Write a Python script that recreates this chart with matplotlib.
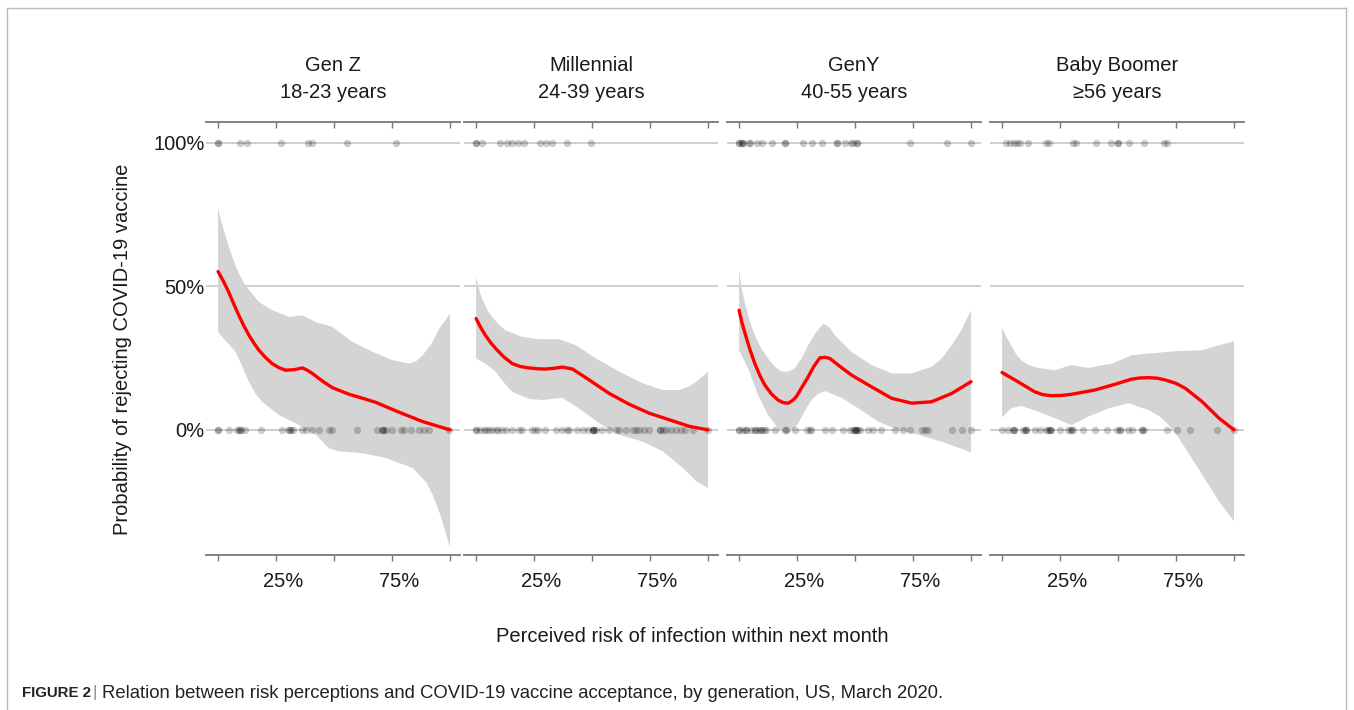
import matplotlib.pyplot as plt
from matplotlib.lines import Line2D
from matplotlib.transforms import ScaledTranslation

plt.rcParams['font.family'] = ['Liberation Sans', 'DejaVu Sans']

W, H = 1354, 710

# facet titles
titles = ['Gen Z\n18-23 years', 'Millennial\n24-39 years',
          'GenY\n40-55 years', 'Baby Boomer\n\u226556 years']

# --- Gen Z ---
genz_fit_x = [0, 0.023, 0.046, 0.067, 0.089, 0.111, 0.133, 0.155, 0.176, 0.205,
              0.233, 0.262, 0.291, 0.33, 0.363, 0.385, 0.406, 0.45, 0.493,
              0.565, 0.62, 0.68, 0.767, 0.882, 1.0]
genz_fit_y = [0.552, 0.518, 0.48, 0.44, 0.40, 0.363, 0.33, 0.302, 0.278, 0.252,
              0.231, 0.217, 0.208, 0.210, 0.216, 0.208, 0.197, 0.170, 0.147,
              0.124, 0.111, 0.096, 0.066, 0.029, 0.0]
genz_up_x = [0, 0.016, 0.032, 0.054, 0.075, 0.096, 0.118, 0.176, 0.233, 0.305,
             0.363, 0.421, 0.493, 0.579, 0.666, 0.752, 0.824, 0.855, 0.882,
             0.92, 0.954, 1.0]
genz_up_y = [0.772, 0.72, 0.677, 0.62, 0.573, 0.535, 0.503, 0.446, 0.417, 0.394,
             0.399, 0.376, 0.359, 0.307, 0.272, 0.243, 0.231, 0.240, 0.260,
             0.300, 0.353, 0.405]
genz_lo_x = [0, 0.017, 0.045, 0.075, 0.105, 0.133, 0.16, 0.19, 0.262, 0.349,
             0.421, 0.478, 0.522, 0.622, 0.723, 0.839, 0.9, 0.925, 0.96, 1.0]
genz_lo_y = [0.341, 0.324, 0.300, 0.272, 0.220, 0.168, 0.128, 0.098, 0.052, 0.017,
             -0.017, -0.064, -0.075, -0.081, -0.098, -0.133, -0.185, -0.226,
             -0.30, -0.41]
genz_ones = [0, 0, 0.095, 0.124, 0.27, 0.389, 0.404, 0.555, 0.767]
genz_zeros = [0, 0, 0.049, 0.082, 0.089, 0.095, 0.097, 0.115, 0.183, 0.274, 0.305,
              0.305, 0.313, 0.323, 0.363, 0.380, 0.406, 0.435, 0.478, 0.490, 0.597,
              0.687, 0.706, 0.712, 0.712, 0.723, 0.752, 0.788, 0.803, 0.831, 0.867,
              0.889, 0.911, 0.997]

# --- Millennial ---
mill_fit_x = [0, 0.02, 0.04, 0.062, 0.084, 0.12, 0.156, 0.19, 0.228, 0.265, 0.3,
              0.34, 0.372, 0.416, 0.45, 0.488, 0.574, 0.661, 0.747, 0.834,
              0.921, 1.0]
mill_fit_y = [0.388, 0.357, 0.33, 0.305, 0.284, 0.254, 0.231, 0.221, 0.216, 0.213,
              0.212, 0.215, 0.219, 0.212, 0.194, 0.174, 0.127, 0.089, 0.058,
              0.035, 0.012, 0.0]
mill_up_x = [0, 0.013, 0.026, 0.047, 0.069, 0.097, 0.127, 0.199, 0.271, 0.358,
             0.43, 0.517, 0.618, 0.719, 0.805, 0.877, 0.92, 0.95, 1.0]
mill_up_y = [0.532, 0.49, 0.457, 0.42, 0.394, 0.368, 0.347, 0.324, 0.316, 0.316,
             0.295, 0.249, 0.203, 0.162, 0.139, 0.139, 0.152, 0.168, 0.203]
mill_lo_x = [0, 0.04, 0.084, 0.12, 0.156, 0.228, 0.286, 0.372, 0.444, 0.531,
             0.618, 0.719, 0.805, 0.892, 0.95, 1.0]
mill_lo_y = [0.249, 0.231, 0.203, 0.165, 0.133, 0.108, 0.104, 0.112, 0.075, 0.023,
             -0.017, -0.041, -0.075, -0.133, -0.179, -0.203]
mill_ones = [0, 0, 0.026, 0.104, 0.134, 0.156, 0.182, 0.208, 0.277, 0.303, 0.329,
             0.39, 0.494]
mill_zeros = [0, 0, 0.019, 0.033, 0.043, 0.055, 0.069, 0.084, 0.095, 0.113, 0.127,
              0.156, 0.185, 0.199, 0.242, 0.254, 0.268, 0.297, 0.343, 0.372, 0.394,
              0.401, 0.437, 0.459, 0.481, 0.502, 0.502, 0.502, 0.509, 0.517, 0.545,
              0.574, 0.603, 0.618, 0.646, 0.675, 0.690, 0.704, 0.726, 0.747, 0.791,
              0.791, 0.805, 0.82, 0.841, 0.863, 0.885, 0.899, 0.935, 1.0]

# --- GenY ---
geny_fit_x = [0, 0.012, 0.024, 0.046, 0.068, 0.09, 0.111, 0.14, 0.168, 0.19,
              0.212, 0.23, 0.247, 0.272, 0.298, 0.323, 0.348, 0.37, 0.391,
              0.44, 0.485, 0.571, 0.658, 0.744, 0.83, 0.917, 1.0]
geny_fit_y = [0.417, 0.375, 0.341, 0.282, 0.231, 0.189, 0.156, 0.125, 0.104, 0.095,
              0.093, 0.102, 0.116, 0.150, 0.185, 0.222, 0.251, 0.253, 0.249,
              0.218, 0.191, 0.150, 0.110, 0.093, 0.098, 0.127, 0.168]
geny_up_x = [0, 0.012, 0.024, 0.046, 0.068, 0.095, 0.125, 0.155, 0.183, 0.21,
             0.24, 0.27, 0.298, 0.33, 0.363, 0.39, 0.413, 0.485, 0.571, 0.658,
             0.744, 0.83, 0.875, 0.917, 0.96, 1.0]
geny_up_y = [0.556, 0.49, 0.446, 0.38, 0.330, 0.285, 0.249, 0.22, 0.203, 0.203,
             0.214, 0.25, 0.295, 0.338, 0.370, 0.358, 0.330, 0.272, 0.226, 0.197,
             0.197, 0.220, 0.250, 0.295, 0.35, 0.417]
geny_lo_x = [0, 0.039, 0.082, 0.125, 0.168, 0.19, 0.212, 0.233, 0.255, 0.285,
             0.312, 0.34, 0.37, 0.442, 0.514, 0.6, 0.686, 0.773, 0.873, 1.0]
geny_lo_y = [0.278, 0.214, 0.122, 0.052, 0.006, -0.006, -0.012, 0.0, 0.023, 0.068,
             0.104, 0.125, 0.135, 0.112, 0.075, 0.029, 0.0, -0.017, -0.041, -0.078]
geny_ones = [0, 0, 0.011, 0.011, 0.018, 0.042, 0.049, 0.077, 0.099, 0.142, 0.199,
             0.199, 0.277, 0.316, 0.357, 0.422, 0.422, 0.458, 0.481, 0.493, 0.507,
             0.507, 0.735, 0.897, 1.0]
geny_zeros = [0, 0, 0.017, 0.032, 0.032, 0.053, 0.068, 0.068, 0.082, 0.096, 0.096,
              0.108, 0.118, 0.154, 0.197, 0.204, 0.24, 0.291, 0.305, 0.312, 0.37,
              0.401, 0.449, 0.478, 0.492, 0.499, 0.499, 0.506, 0.506, 0.514, 0.521,
              0.557, 0.578, 0.614, 0.672, 0.708, 0.737, 0.787, 0.801, 0.816, 0.917,
              0.96, 1.0]

# --- Baby Boomer ---
boom_fit_x = [0, 0.068, 0.14, 0.175, 0.212, 0.255, 0.299, 0.4, 0.487, 0.559,
              0.595, 0.632, 0.67, 0.704, 0.75, 0.79, 0.863, 0.935, 1.0]
boom_fit_y = [0.200, 0.168, 0.133, 0.123, 0.119, 0.120, 0.124, 0.139, 0.159, 0.177,
              0.181, 0.182, 0.180, 0.174, 0.162, 0.145, 0.098, 0.041, 0.0]
boom_up_x = [0, 0.02, 0.039, 0.06, 0.082, 0.115, 0.155, 0.227, 0.299, 0.371,
             0.473, 0.559, 0.632, 0.747, 0.863, 0.935, 1.0]
boom_up_y = [0.355, 0.322, 0.295, 0.265, 0.243, 0.226, 0.216, 0.208, 0.226, 0.216,
             0.231, 0.260, 0.266, 0.274, 0.278, 0.295, 0.309]
boom_lo_x = [0, 0.039, 0.082, 0.155, 0.227, 0.299, 0.371, 0.458, 0.545, 0.632,
             0.68, 0.718, 0.755, 0.79, 0.863, 0.935, 1.0]
boom_lo_y = [0.043, 0.075, 0.084, 0.064, 0.041, 0.017, 0.046, 0.075, 0.093, 0.069,
             0.047, 0.017, -0.02, -0.064, -0.156, -0.249, -0.318]
boom_ones = [0.015, 0.035, 0.051, 0.066, 0.079, 0.113, 0.19, 0.201, 0.306, 0.318,
             0.406, 0.468, 0.498, 0.498, 0.548, 0.611, 0.699, 0.71]
boom_zeros = [0, 0.025, 0.046, 0.053, 0.053, 0.09, 0.097, 0.104, 0.104, 0.14, 0.162,
              0.191, 0.198, 0.205, 0.205, 0.212, 0.249, 0.285, 0.299, 0.299, 0.306,
              0.35, 0.4, 0.451, 0.494, 0.509, 0.509, 0.545, 0.559, 0.603, 0.603,
              0.61, 0.711, 0.754, 0.812, 0.928, 1.0]

panels = [
    (genz_fit_x, genz_fit_y, genz_up_x, genz_up_y, genz_lo_x, genz_lo_y, genz_ones, genz_zeros),
    (mill_fit_x, mill_fit_y, mill_up_x, mill_up_y, mill_lo_x, mill_lo_y, mill_ones, mill_zeros),
    (geny_fit_x, geny_fit_y, geny_up_x, geny_up_y, geny_lo_x, geny_lo_y, geny_ones, geny_zeros),
    (boom_fit_x, boom_fit_y, boom_up_x, boom_up_y, boom_lo_x, boom_lo_y, boom_ones, boom_zeros),
]

x_ticks = [0, 0.25, 0.5, 0.75, 1.0]
x_ticklabels = ['', '25%', '', '75%', '']
y_ticks = [0, 0.5, 1.0]
y_ticklabels = ['0%', '50%', '100%']

fig = plt.figure(figsize=(W / 100, H / 100), dpi=100)

lefts = [206, 464, 727, 990]
ax_w = 254
ax_top, ax_bot = 122, 555

for i, (fx, fy, ux, uy, lx, ly, ones, zeros) in enumerate(panels):
    ax = fig.add_axes([lefts[i] / W, 1 - ax_bot / H, ax_w / W, (ax_bot - ax_top) / H])
    for yv in y_ticks:
        ax.axhline(yv, color='#cccccc', lw=1.3, zorder=0)
    # confidence band
    ax.fill(list(ux) + list(lx)[::-1], list(uy) + list(ly)[::-1],
            color='#d4d4d4', lw=0, zorder=1)
    ax.plot(ones, [1] * len(ones), 'o', color='black', alpha=0.2, ms=5.3,
            mew=0, zorder=2)
    ax.plot(zeros, [0] * len(zeros), 'o', color='black', alpha=0.2, ms=5.3,
            mew=0, zorder=2)
    ax.plot(fx, fy, color='#ff0000', lw=2.4, zorder=3,
            solid_capstyle='round', solid_joinstyle='round')

    ax.set_xlim(-0.052, 1.043)
    ax.set_ylim(-0.436, 1.073)
    ax.set_xticks(x_ticks)
    ax.set_xticklabels(x_ticklabels, fontsize=14.5, color='#1a1a1a')
    ax.tick_params(axis='x', which='both', top=True, bottom=True, length=4.5,
                   width=1, color='#777777', pad=8, direction='out')
    # top ticks point downward into the panel
    for t in ax.xaxis.get_major_ticks():
        t.tick2line.set_marker(3)
    offset = ScaledTranslation(7 / 100, 0, fig.dpi_scale_trans)
    for lab in ax.get_xticklabels():
        lab.set_transform(lab.get_transform() + offset)

    ax.set_yticks(y_ticks)
    if i == 0:
        ax.set_yticklabels(y_ticklabels, fontsize=14.5, color='#1a1a1a')
    else:
        ax.set_yticklabels([])
    ax.tick_params(axis='y', length=0, pad=1)

    for s in ['left', 'right']:
        ax.spines[s].set_visible(False)
    for s in ['top', 'bottom']:
        ax.spines[s].set_color('#777777')
        ax.spines[s].set_linewidth(1.3)
    ax.set_title(titles[i], fontsize=14.5, linespacing=1.55, pad=17, color='#1a1a1a')

fig.text(122 / W, 1 - 349 / H, 'Probability of rejecting COVID-19 vaccine',
         rotation=90, ha='center', va='center', fontsize=14.5, color='#1a1a1a')
fig.text(692 / W, 1 - 636 / H, 'Perceived risk of infection within next month',
         ha='center', va='center', fontsize=14.5, color='#1a1a1a')

# caption
fig.text(22 / W, 1 - 693 / H, 'FIGURE 2', fontweight='bold',
         fontsize=10.8, ha='left', va='center', color='#222222')
fig.text(92 / W, 1 - 693 / H, '|', fontsize=12, ha='left',
         va='center', color='#888888')
fig.text(102 / W, 1 - 693 / H,
         'Relation between risk perceptions and COVID-19 vaccine acceptance, '
         'by generation, US, March 2020.',
         fontsize=13.3, ha='left', va='center', color='#222222')

# outer frame
for xs, ys in [([7, 7], [8, 710]), ([7, 1346], [8, 8]), ([1346, 1346], [8, 710])]:
    fig.add_artist(Line2D([x / W for x in xs], [1 - y / H for y in ys],
                          color='#bbbbbb', lw=1))

fig.savefig('out.png', dpi=100)
